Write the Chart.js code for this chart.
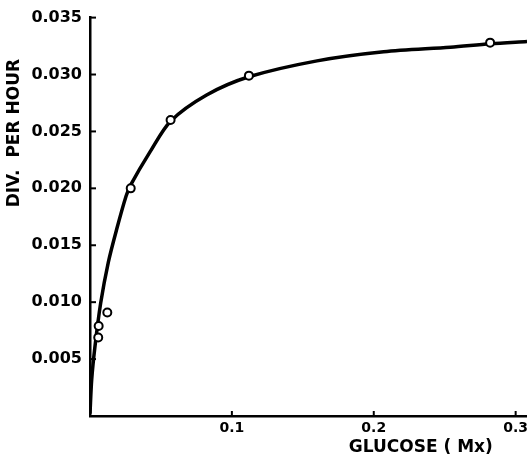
<!DOCTYPE html>
<html>
<head>
<meta charset="utf-8">
<script src="https://cdn.jsdelivr.net/npm/chart.js@4/dist/chart.umd.min.js"></script>
<style>
  html, body { margin: 0; padding: 0; background: #fff; }
  #wrap { width: 527px; height: 459px; }
</style>
</head>
<body>
<div id="wrap"><canvas id="chart" width="527" height="459"></canvas></div>
<script>
// measured points (open circles)
const glucose = [0.0058, 0.0061, 0.0122, 0.0287, 0.0568, 0.112, 0.282];
const divPerHour = [0.0069, 0.0079, 0.0091, 0.0200, 0.0260, 0.0299, 0.0328];

// hand-drawn curve
const curveX = [0.0, 0.0012, 0.0035, 0.0075, 0.0129, 0.0188, 0.0254, 0.0287, 0.0423, 0.0568, 0.0822, 0.112, 0.160, 0.207, 0.254, 0.282, 0.308];
const curveY = [0.0002, 0.0032, 0.0061, 0.0099, 0.0135, 0.0164, 0.0193, 0.0203, 0.0232, 0.0259, 0.0282, 0.0298, 0.0312, 0.0320, 0.0324, 0.0327, 0.0329];

const xTickValues = [0.1, 0.2, 0.3];
const xTickLabels = ['0.1', '0.2', '0.3'];
const yTickValues = [0.005, 0.010, 0.015, 0.020, 0.025, 0.030, 0.035];
const yTickLabels = ['0.005', '0.010', '0.015', '0.020', '0.025', '0.030', '0.035'];

const xTitle = 'GLUCOSE ( Mx)';
const yTitle = 'DIV.  PER HOUR';

const FONT = '"DejaVu Sans", sans-serif';

const annotate = {
  id: 'annotate',
  afterDatasetsDraw(chart) {
    const { ctx, chartArea } = chart;
    const xs = chart.scales.x, ys = chart.scales.y;
    ctx.save();
    ctx.strokeStyle = '#000';
    ctx.lineWidth = 2;
    // inward tick marks
    yTickValues.forEach(v => {
      const y = ys.getPixelForValue(v);
      ctx.beginPath();
      ctx.moveTo(chartArea.left, y);
      ctx.lineTo(chartArea.left + 6, y);
      ctx.stroke();
    });
    xTickValues.forEach(v => {
      const x = xs.getPixelForValue(v);
      ctx.beginPath();
      ctx.moveTo(x, chartArea.bottom);
      ctx.lineTo(x, chartArea.bottom - 5);
      ctx.stroke();
    });
    ctx.fillStyle = '#000';
    ctx.font = 'bold 17px ' + FONT;
    ctx.textAlign = 'center';
    ctx.textBaseline = 'middle';
    ctx.fillText(xTitle, chartArea.left + chartArea.width * 0.757, chartArea.bottom + 32);
    ctx.translate(15, chartArea.top + chartArea.height * 0.29);
    ctx.rotate(-Math.PI / 2);
    ctx.fillText(yTitle, 0, 0);
    ctx.restore();
  }
};

new Chart(document.getElementById('chart'), {
  type: 'scatter',
  data: {
    datasets: [
      {
        type: 'scatter',
        data: glucose.map((x, i) => ({ x, y: divPerHour[i] })),
        pointStyle: 'circle',
        pointRadius: 4,
        pointBorderWidth: 2,
        pointBackgroundColor: '#fff',
        pointBorderColor: '#000',
        order: 0
      },
      {
        type: 'line',
        data: curveX.map((x, i) => ({ x, y: curveY[i] })),
        borderColor: '#000',
        borderWidth: 3.5,
        pointRadius: 0,
        tension: 0.3,
        fill: false,
        order: 1
      }
    ]
  },
  options: {
    responsive: false,
    animation: false,
    layout: { autoPadding: false, padding: { top: 16, right: 0, left: 0, bottom: 0 } },
    plugins: { legend: { display: false }, tooltip: { enabled: false } },
    scales: {
      x: {
        type: 'linear',
        min: 0,
        max: 0.308,
        afterBuildTicks: s => { s.ticks = xTickValues.map(v => ({ value: v })); },
        afterFit: s => { s.height = 43; s.paddingRight = 0; },
        grid: { display: false, drawTicks: false },
        border: { display: true, color: '#000', width: 2.5 },
        ticks: {
          color: '#000',
          font: { family: FONT, size: 14, weight: 'bold' },
          padding: 4,
          maxRotation: 0,
          callback: (v, i) => xTickLabels[i]
        }
      },
      y: {
        type: 'linear',
        min: 0,
        max: 0.035,
        afterBuildTicks: s => { s.ticks = yTickValues.map(v => ({ value: v })); },
        afterFit: s => { s.width = 90; },
        grid: { display: false, drawTicks: false },
        border: { display: true, color: '#000', width: 2.5 },
        ticks: {
          color: '#000',
          font: { family: FONT, size: 16, weight: 'bold' },
          padding: 8,
          callback: (v, i) => yTickLabels[i]
        }
      }
    }
  },
  plugins: [annotate]
});
</script>
</body>
</html>
